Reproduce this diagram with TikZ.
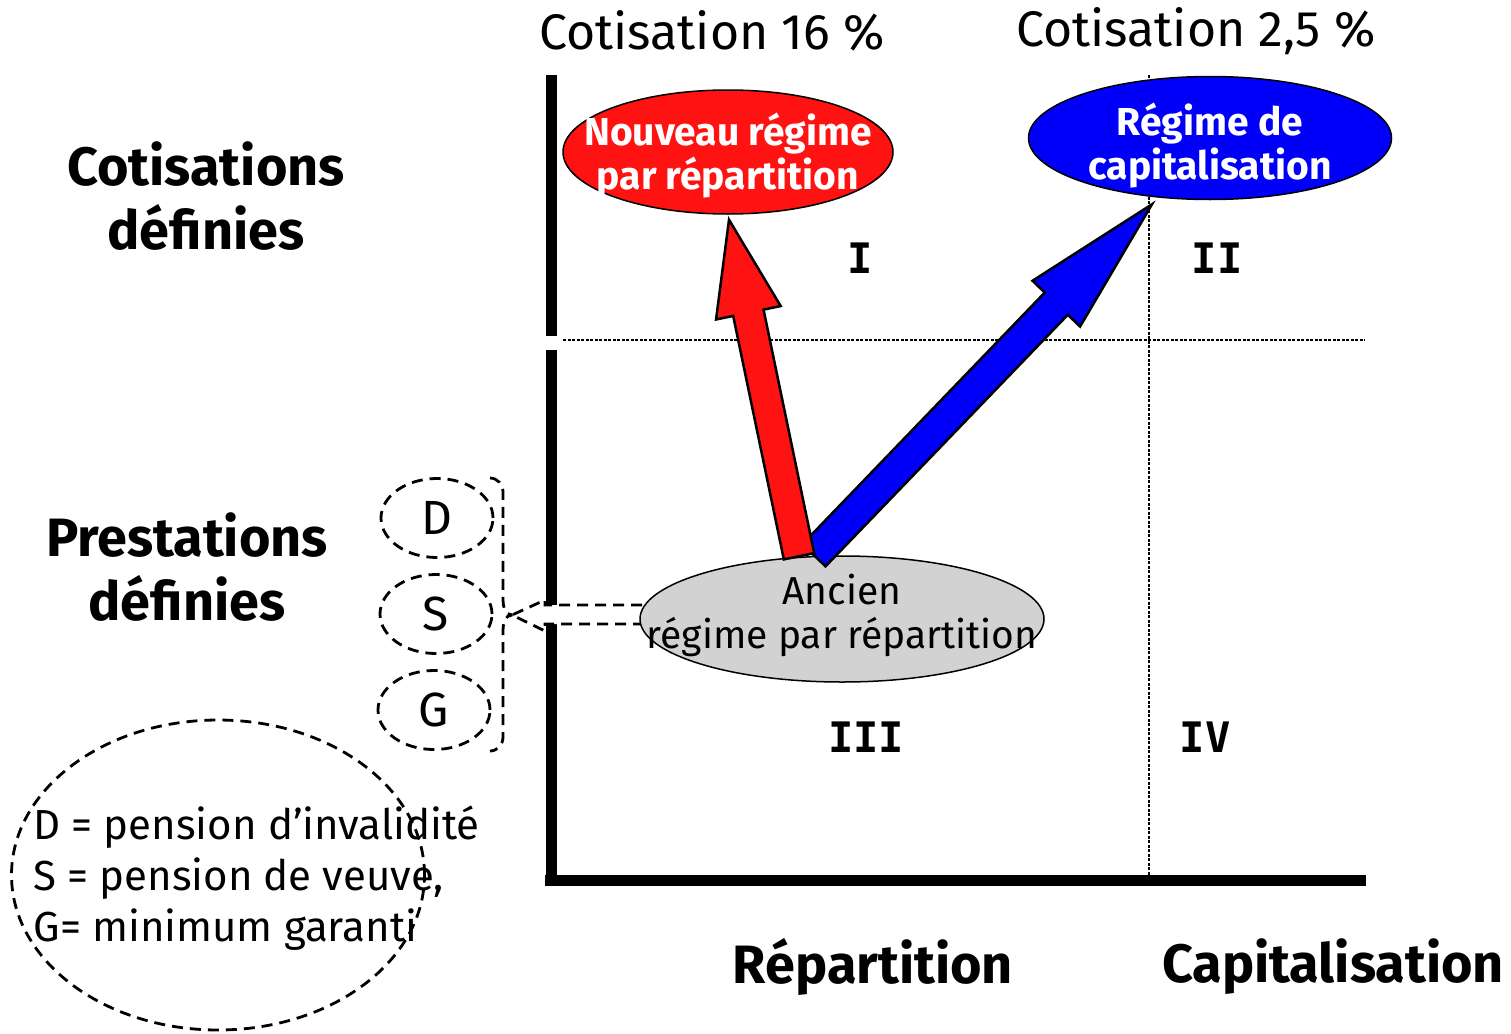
\documentclass[tikz,border=0pt]{standalone}
\usepackage{fontspec}
\setmainfont{Fira Sans}
\newfontfamily\chiffrefont{DejaVu Sans Mono}
\usepackage{tikz}
\usetikzlibrary{calc,shapes.geometric}

\definecolor{rouge}{RGB}{255,18,18}
\definecolor{bleu}{RGB}{0,0,250}
\definecolor{gris}{RGB}{210,210,210}

\newcommand\fatarrow[6]{%
    \coordinate (fah) at ($(#3)!#6!(#2)$);
    \filldraw[fill=#1, line width=2.5pt, line join=miter]
        ($(#2)!#4!90:(#3)$) -- ($(fah)!#4!-90:(#2)$) -- ($(fah)!#5!-90:(#2)$)
        -- (#3) -- ($(fah)!#5!90:(#2)$) -- ($(fah)!#4!90:(#2)$)
        -- ($(#2)!#4!-90:(#3)$) -- cycle;
}

\begin{document}
\begin{tikzpicture}[x=1pt, y=-1pt,
    axe/.style={line width=11pt},
    grille/.style={line width=2.2pt, dash pattern=on 3pt off 1.5pt},
    tiret/.style={line width=2.8pt, dash pattern=on 11pt off 7pt},
    titre/.style={font=\fontsize{50}{58}\selectfont},
    gros/.style={font=\bfseries\fontsize{54}{64}\selectfont, align=center},
    chiffre/.style={font=\chiffrefont\bfseries\fontsize{42}{48}\selectfont},
    ovale/.style={ellipse, draw=black, line width=1.5pt, inner sep=0pt},
    regime/.style 2 args={ovale, label={[text=white, align=center, yshift=#2,
        font=\bfseries\fontsize{39}{44}\selectfont]center:#1}},
    lettre/.style={ellipse, draw, tiret, inner sep=0pt, minimum width=112, minimum height=79,
        font=\fontsize{48}{52}\selectfont}]
    \useasboundingbox (0,0) rectangle (1511,1033);

    \node[titre] (t16) at (712,31) {Cotisation 16 \%};
    \node[titre] (t25) at (1196,31) {Cotisation 2,5 \%};
    \node[gros] (cd) at (206,196) {Cotisations\\définies};
    \node[gros] (pd) at (187,567) {Prestations\\définies};
    \node[gros] (rep) at (873,967) {Répartition};
    \node[gros] (cap) at (1333,967) {Capitalisation};

    \node[chiffre] (q1) at (860,258) {I};
    \node[chiffre] (q2) at (1217,258) {II};
    \node[chiffre] (q3) at (866,737) {III};
    \node[chiffre] (q4) at (1205,737) {IV};

    \draw[grille] (563,340) -- (1365,340);
    \draw[grille] (1149,75) -- (1149,875);
    \draw[axe] (551,75) -- (551,336);
    \draw[axe] (551,350) -- (551,885);
    \draw[axe] (545,880) -- (1366,880);

    \node[lettre] (d) at (437,518) {D};
    \node[lettre] (s) at (436,614) {S};
    \node[lettre] (g) at (434,710) {G};
    \coordinate (bt) at (512,615);
    \draw[tiret] (490,478) to[out=0, in=90] (503,492) -- (503,600)
        to[out=-90, in=180] (bt) to[out=180, in=90] (503,630) -- (503,737)
        to[out=-90, in=0] (490,751);

    \fill[white] (bt) -- (545,600) -- (545,605) -- (660,605) -- (660,624)
        -- (545,624) -- (545,631) -- cycle;
    \draw[tiret] (660,605) -- (545,605) -- (545,600) -- (bt) -- (545,631)
        -- (545,624) -- (660,624);

    \node[regime={Nouveau régime\\par répartition}{-4pt}, fill=rouge, minimum width=330,
        minimum height=124] (nouv) at (728,152) {};
    \node[regime={Régime de\\capitalisation}{-8pt}, fill=bleu, minimum width=363,
        minimum height=123] (capi) at (1210,138) {};
    \node[ovale, fill=gris, minimum width=404, minimum height=126,
        label={[align=center, yshift=4pt, font=\fontsize{39}{44}\selectfont]center:Ancien\\régime par répartition}]
        (anc) at (842,619) {};

    \coordinate (rb) at ($(anc.north)+(-43,1)$);
    \coordinate (bb) at ($(anc.north)+(-28,0)$);
    \coordinate (rt) at ($(nouv.south)+(1,5)$);
    \coordinate (btip) at ($(capi.south)+(-58,4)$);
    \fatarrow{bleu}{bb}{btip}{16pt}{33pt}{138pt}
    \fatarrow{rouge}{rb}{rt}{15.5pt}{33pt}{95pt}

    \node[ellipse, draw, tiret, minimum width=413, minimum height=310] (leg) at (218,875) {};
    \node[anchor=west, align=left, font=\fontsize{42}{51}\selectfont] (legtxt) at (30,878)
        {D = pension d’invalidité\\S = pension de veuve,\\G= minimum garanti};
\end{tikzpicture}
\end{document}
